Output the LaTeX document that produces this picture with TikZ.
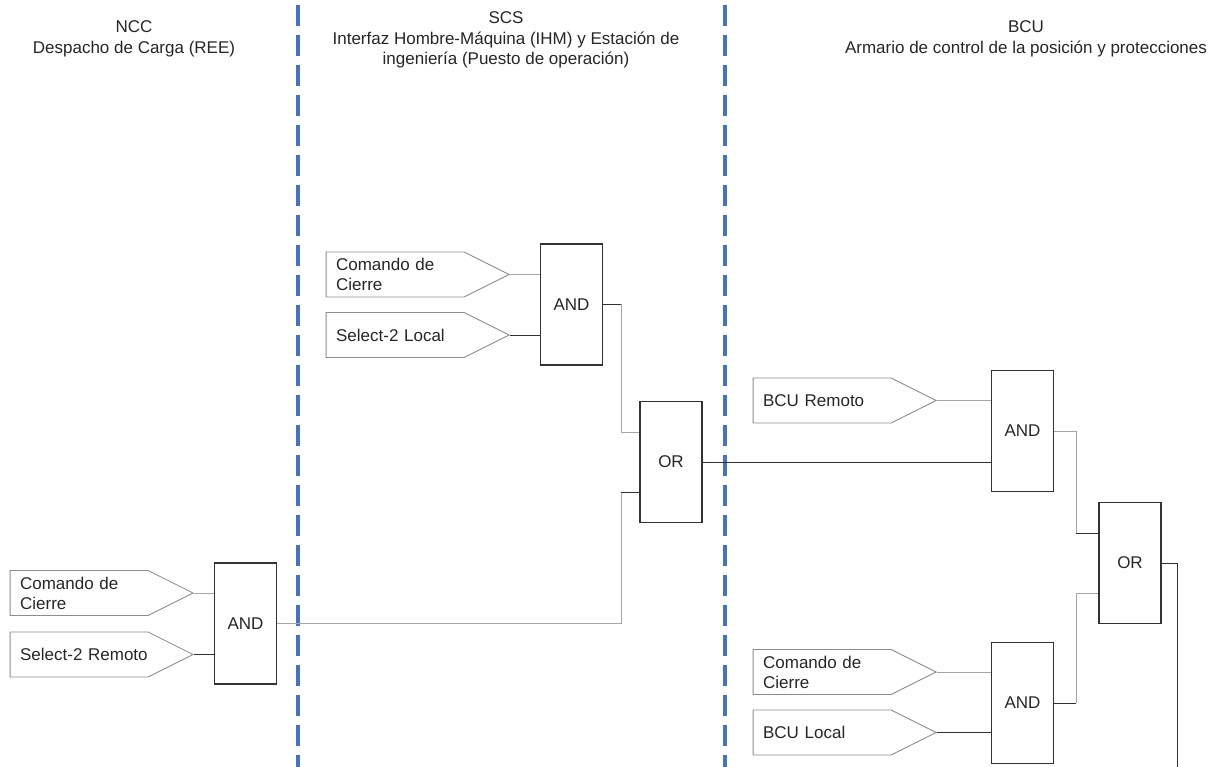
\documentclass[tikz,border=0pt]{standalone}
\usepackage{fontspec}
\setmainfont{Liberation Sans}
\usetikzlibrary{shapes.symbols}

\definecolor{zoneblue}{RGB}{68,114,196}

\begin{document}
\begin{tikzpicture}[x=1pt, y=-1pt,
	gate/.style={rectangle, draw=black!80, line width=1.3pt, minimum width=62pt,
		minimum height=121pt, inner sep=0pt, text=black!85,
		font=\fontsize{17}{20}\selectfont},
	inbox/.style={signal, signal to=east, signal pointer angle=53.13, draw=black!45,
		line width=0.8pt, minimum height=45pt, text width=118pt, inner xsep=10pt,
		align=left, anchor=east, text=black!85, font=\fontsize{17}{20}\selectfont},
	zonetitle/.style={align=center, text=black!85, font=\fontsize{17}{20.5}\selectfont},
	wirelight/.style={draw=black!35, line width=0.9pt},
	wiredark/.style={draw=black!80, line width=0.9pt},
	divider/.style={draw=zoneblue, line width=3.6pt, dash pattern=on 21pt off 9pt, dash phase=25pt}]
	\useasboundingbox (0,0) rectangle (1221,767);

	% zones
	\draw[divider] (298,0) -- (298,767);
	\draw[divider] (725,0) -- (725,767);
	\node[zonetitle] (nccTitle) at (134,39) {NCC\\Despacho de Carga (REE)};
	\node[zonetitle] (scsTitle) at (506,40) {SCS\\Interfaz Hombre-Máquina (IHM) y Estación de\\ingeniería (Puesto de operación)};
	\node[zonetitle] (bcuTitle) at (1026,39) {BCU\\Armario de control de la posición y protecciones};

	% NCC
	\node[gate] (nccAnd) at (245.5,623.5) {AND};
	\node[inbox] (nccCierre) at (194,593) {Comando de\\Cierre};
	\node[inbox] (nccSelect) at (194,654.5) {\mbox{Select-2 Remoto}};

	% SCS
	\node[gate] (scsAnd) at (571.5,304.5) {AND};
	\node[gate] (scsOr) at (671,462) {OR};
	\node[inbox] (scsCierre) at (510,274.5) {Comando de\\Cierre};
	\node[inbox] (scsSelect) at (510,335) {Select-2 Local};

	% BCU
	\node[gate] (bcuAndR) at (1022.5,431) {AND};
	\node[gate] (bcuOr) at (1130,563) {OR};
	\node[gate] (bcuAndL) at (1022.5,703) {AND};
	\node[inbox] (bcuRemoto) at (937,400.5) {BCU Remoto};
	\node[inbox] (bcuCierre) at (937,672) {Comando de\\Cierre};
	\node[inbox] (bcuLocal) at (937,732.5) {BCU Local};

	\coordinate (scsUp) at (621,432);
	\coordinate (scsLo) at (621,492);
	\coordinate (bcuUp) at (1076,533);
	\coordinate (bcuLo) at (1076,593);
	\coordinate (bcuOut) at (1177,767);

	% wires
	\draw[wirelight] (nccCierre.east) -- (nccCierre.east -| nccAnd.west);
	\draw[wiredark] (nccSelect.east) -- (nccSelect.east -| nccAnd.west);
	\draw[wirelight] (nccAnd.east) -| (scsLo);
	\draw[wiredark] (scsLo) -- (scsLo -| scsOr.west);

	\draw[wirelight] (scsCierre.east) -- (scsCierre.east -| scsAnd.west);
	\draw[wiredark] (scsSelect.east) -- (scsSelect.east -| scsAnd.west);
	\draw[wiredark] (scsAnd.east) -- (scsAnd.east -| scsUp);
	\draw[wirelight] (scsAnd.east -| scsUp) -- (scsUp) -- (scsUp -| scsOr.west);
	\draw[wiredark] (scsOr.east) -- (scsOr.east -| bcuAndR.west);

	\draw[wirelight] (bcuRemoto.east) -- (bcuRemoto.east -| bcuAndR.west);
	\draw[wirelight] (bcuAndR.east) -| (bcuUp);
	\draw[wiredark] (bcuUp) -- (bcuUp -| bcuOr.west);
	\draw[wirelight] (bcuCierre.east) -- (bcuCierre.east -| bcuAndL.west);
	\draw[wiredark] (bcuLocal.east) -- (bcuLocal.east -| bcuAndL.west);
	\draw[wiredark] (bcuAndL.east) -- (bcuAndL.east -| bcuLo);
	\draw[wirelight] (bcuAndL.east -| bcuLo) -- (bcuLo) -- (bcuLo -| bcuOr.west);
	\draw[wiredark] (bcuOr.east) -| (bcuOut);
\end{tikzpicture}
\end{document}
